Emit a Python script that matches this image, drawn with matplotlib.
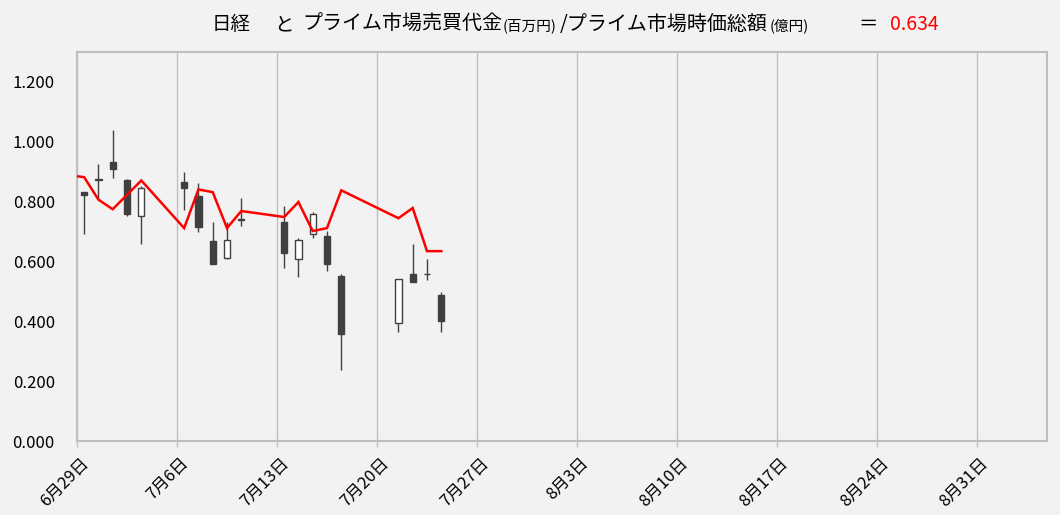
import matplotlib
matplotlib.use("Agg")
import matplotlib.pyplot as plt
import matplotlib.dates as mdates
import matplotlib.transforms as mtransforms
import numpy as np
import pandas as pd

plt.rcParams['font.family'] = ['Noto Sans CJK JP', 'DejaVu Sans']

# ---- data ----
candle_dates = ["2020-06-29", "2020-06-30", "2020-07-01", "2020-07-02", "2020-07-03",
                "2020-07-06", "2020-07-07", "2020-07-08", "2020-07-09", "2020-07-10",
                "2020-07-13", "2020-07-14", "2020-07-15", "2020-07-16", "2020-07-17",
                "2020-07-21", "2020-07-22", "2020-07-23", "2020-07-24"]
open_ = [0.833, 0.875, 0.932, 0.870, 0.752, 0.866, 0.819, 0.669, 0.611, 0.742,
         0.730, 0.608, 0.692, 0.686, 0.550, 0.394, 0.559, 0.559, 0.486]
close = [0.822, 0.872, 0.909, 0.758, 0.846, 0.846, 0.716, 0.592, 0.672, 0.739,
         0.629, 0.672, 0.759, 0.591, 0.358, 0.542, 0.532, 0.556, 0.401]
high = [0.833, 0.926, 1.037, 0.876, 0.850, 0.898, 0.862, 0.732, 0.731, 0.812,
        0.784, 0.678, 0.764, 0.700, 0.559, 0.542, 0.659, 0.609, 0.496]
low = [0.692, 0.806, 0.879, 0.751, 0.659, 0.772, 0.697, 0.592, 0.608, 0.719,
       0.579, 0.546, 0.679, 0.567, 0.237, 0.364, 0.532, 0.539, 0.364]

ratio_dates = ["2020-06-26"] + candle_dates
ratio = [0.900, 0.881, 0.806, 0.774, 0.822, 0.870, 0.711, 0.840, 0.831, 0.711, 0.768,
         0.748, 0.798, 0.701, 0.711, 0.837, 0.744, 0.778, 0.634, 0.634]

tick_start = "2020-06-29"
tick_end = "2020-08-31"
x_end = "2020-09-05"
yticks = [0.0, 0.2, 0.4, 0.6, 0.8, 1.0, 1.2]

title_big = ["日経", "と", "プライム市場売買代金", "/プライム市場時価総額", "＝"]
title_small = ["(百万円)", "(億円)"]
title_value = "0.634"

# ---- figure ----
BG = "#F2F2F2"
GRID = "#BFBFBF"
DARK = "#404040"
W, H = 1060, 515
fig = plt.figure(figsize=(W / 100, H / 100), dpi=100, facecolor=BG)
ax = fig.add_axes([77 / W, 1 - 441 / H, (1047 - 77) / W, (441 - 51.7) / H], facecolor=BG)

cx = mdates.date2num(pd.to_datetime(candle_dates)) + 0.5
rx = mdates.date2num(pd.to_datetime(ratio_dates)) + 0.5
o = np.array(open_); c = np.array(close)
bottom = np.minimum(o, c)
height = np.maximum(np.abs(c - o), 0.003)
up = c > o
fcol = ["white" if u else DARK for u in up]

ax.vlines(cx, low, high, color=DARK, lw=1.0, zorder=2)
ax.bar(cx, height, bottom=bottom, width=0.44, color=fcol, edgecolor=DARK,
       linewidth=1.0, zorder=3)
ax.plot(rx, ratio, color="#FF0000", lw=1.8, zorder=4, solid_joinstyle="miter")

ticks = mdates.date2num(pd.date_range(tick_start, tick_end, freq="7D"))
ax.set_xticks(ticks)
ax.set_xticklabels([f"{d.month}月{d.day}日" for d in mdates.num2date(ticks)])
ax.set_xlim(mdates.date2num(pd.Timestamp(tick_start)), mdates.date2num(pd.Timestamp(x_end)) - 0.1)
ax.set_ylim(0, 1.3)
ax.set_yticks(yticks)
ax.set_yticklabels([f"{v:.3f}" for v in yticks])

ax.grid(axis="x", color=GRID, lw=1.0)
ax.grid(axis="y", visible=False)
for s in ax.spines.values():
    s.set_color(GRID)
    s.set_linewidth(1.5)
ax.tick_params(axis="y", length=0, pad=16, labelsize=12)
ax.tick_params(axis="x", length=4, color=GRID, width=1.0, pad=10, labelsize=12)
off = mtransforms.ScaledTranslation(9 / 100, 0, fig.dpi_scale_trans)
for lab in ax.get_xticklabels():
    lab.set_rotation(45)
    lab.set_rotation_mode("anchor")
    lab.set_ha("right")
    lab.set_va("center")
    lab.set_transform(lab.get_transform() + off)

# ---- title ----
base_y = 1 - 30 / H
def tx(px, s, size, color="black"):
    fig.text(px / W, base_y, s, fontsize=size, color=color, ha="left", va="baseline")

tx(212, title_big[0], 14)
tx(274, title_big[1], 14)
tx(302, title_big[2], 14.4)
tx(503, title_small[0], 10.5)
tx(560, title_big[3], 14.4)
tx(770, title_small[1], 10.5)
tx(858, title_big[4], 14)
tx(890, title_value, 14, "#FF0000")

fig.savefig("out.png", dpi=100, facecolor=BG)
